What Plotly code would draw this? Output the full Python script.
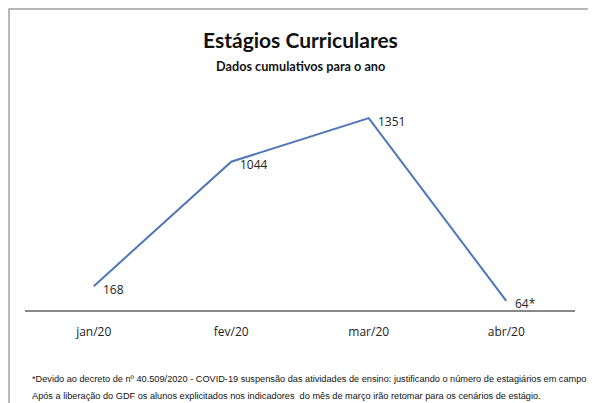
import plotly.graph_objects as go

# data
meses = ["jan/20", "fev/20", "mar/20", "abr/20"]
estagios = [168, 1044, 1351, 64]
rotulos = ["168", "1044", "1351", "64*"]

titulo = "Estágios Curriculares"
subtitulo = "Dados cumulativos para o ano"
nota1 = ("*Devido ao decreto de nº 40.509/2020 - COVID-19 suspensão das atividades de ensino: "
         "justificando o número de estagiários em campo")
nota2 = ("Após a liberação do GDF os alunos explicitados nos indicadores  do mês de março irão "
         "retomar para os cenários de estágio.")

fig = go.Figure()
fig.add_trace(go.Scatter(
    x=meses, y=estagios, mode="lines",
    line=dict(color="#4F76B8", width=2),
    hoverinfo="x+y", showlegend=False,
))

# data labels, just below-right of each point
for m, v, r in zip(meses, estagios, rotulos):
    fig.add_annotation(x=m, y=v, text=r, showarrow=False,
                       xanchor="left", yanchor="middle", xshift=7, yshift=-3,
                       font=dict(family="Open Sans", size=12, color="#222"))

# titles and footnote (paper coords)
fig.add_annotation(x=0.5, y=1.27, xref="paper", yref="paper", text="<b>" + titulo + "</b>",
                   showarrow=False, font=dict(family="Lato", size=21, color="#111"),
                   xanchor="center", yanchor="middle")
fig.add_annotation(x=0.5, y=1.146, xref="paper", yref="paper", text="<b>" + subtitulo + "</b>",
                   showarrow=False, font=dict(family="Lato", size=12.7, color="#111"),
                   xanchor="center", yanchor="middle")
fig.add_annotation(x=0.009, y=-0.324, xref="paper", yref="paper", text=nota1,
                   showarrow=False, font=dict(family="Liberation Sans", size=9.2, color="#111"),
                   xanchor="left", yanchor="middle")
fig.add_annotation(x=0.009, y=-0.404, xref="paper", yref="paper", text=nota2,
                   showarrow=False, font=dict(family="Liberation Sans", size=9.2, color="#111"),
                   xanchor="left", yanchor="middle")

# grey frame around the chart area
fig.add_shape(type="rect", xref="paper", yref="paper",
              x0=-0.029, x1=2, y0=-2, y1=1.413,
              line=dict(color="#a0a0a0", width=1.5))

fig.update_layout(
    width=596, height=403,
    margin=dict(l=17, r=29, t=89, b=101),
    paper_bgcolor="white", plot_bgcolor="white",
    xaxis=dict(range=[-0.5, 3.5], showline=True, linecolor="#888", linewidth=1.5,
               showgrid=False, ticks="", zeroline=False, fixedrange=True,
               ticklabelstandoff=10,
               tickfont=dict(family="Open Sans", size=12, color="#222")),
    yaxis=dict(range=[0, 1500], visible=False, showgrid=False, zeroline=False),
)

fig.write_html("out.html")
